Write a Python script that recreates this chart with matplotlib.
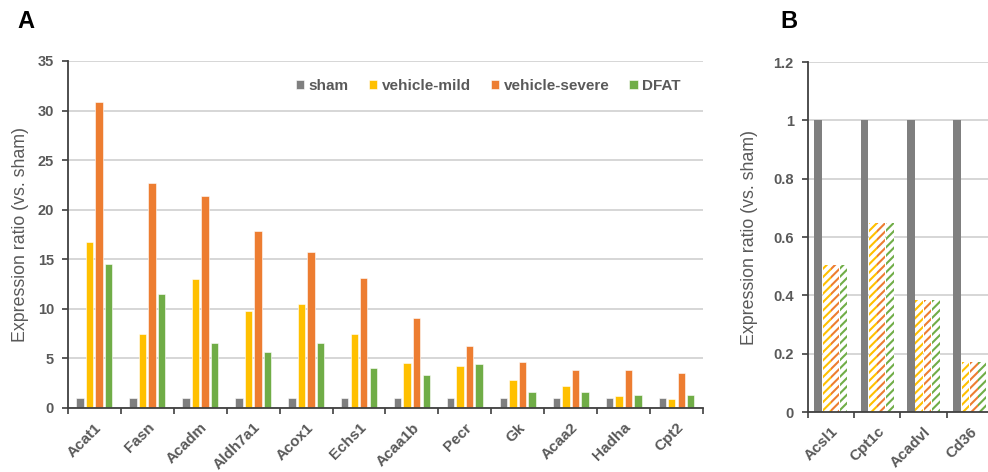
import matplotlib
matplotlib.use("Agg")
import matplotlib.pyplot as plt
import numpy as np

plt.rcParams['font.family'] = ['Liberation Sans', 'DejaVu Sans']
plt.rcParams['hatch.linewidth'] = 1.5

# panel A: fold change vs. sham
genes_a = ["Acat1", "Fasn", "Acadm", "Aldh7a1", "Acox1", "Echs1",
           "Acaa1b", "Pecr", "Gk", "Acaa2", "Hadha", "Cpt2"]
sham_a = [1, 1, 1, 1, 1, 1, 1, 1, 1, 1, 1, 1]
mild_a = [16.75, 7.5, 13.0, 9.8, 10.45, 7.5, 4.55, 4.25, 2.85, 2.25, 1.25, 0.95]
severe_a = [30.85, 22.65, 21.4, 17.9, 15.7, 13.15, 9.1, 6.3, 4.6, 3.85, 3.85, 3.5]
dfat_a = [14.5, 11.5, 6.6, 5.6, 6.6, 4.0, 3.35, 4.4, 1.6, 1.6, 1.35, 1.35]

# panel B: down-regulated genes
genes_b = ["Acsl1", "Cpt1c", "Acadvl", "Cd36"]
sham_b = [1, 1, 1, 1]
mild_b = [0.505, 0.648, 0.385, 0.17]
severe_b = [0.505, 0.648, 0.385, 0.17]
dfat_b = [0.505, 0.648, 0.385, 0.17]

series = ["sham", "vehicle-mild", "vehicle-severe", "DFAT"]
colors = ["#7f7f7f", "#ffc000", "#ed7d31", "#70ad47"]
txt = "#595959"
axcol = "#404040"
grid = "#d0d0d0"

fig = plt.figure(figsize=(9.88, 4.72), dpi=100)
axA = fig.add_axes([0.0688, 0.1356, 0.6427, 0.7352])
axB = fig.add_axes([0.8175, 0.1271, 0.1875, 0.7415])


def style_axis(ax, n, labels, label_x):
    ax.set_xlim(-0.5, n - 0.5)
    for s in ["top", "right"]:
        ax.spines[s].set_visible(False)
    for s in ["left", "bottom"]:
        ax.spines[s].set_color(axcol)
        ax.spines[s].set_linewidth(1.3)
    ax.set_axisbelow(True)
    ax.yaxis.grid(True, color=grid, linewidth=1.2)
    ax.tick_params(axis='y', direction='out', length=4, width=1.2, color=axcol,
                   pad=6, labelsize=10.5, labelcolor=txt)
    for t in ax.get_yticklabels():
        t.set_fontweight('bold')
    ax.set_xticks(np.arange(n))
    ax.set_xticks(np.arange(n + 1) - 0.5, minor=True)
    ax.tick_params(axis='x', which='major', length=0, pad=9)
    ax.tick_params(axis='x', which='minor', direction='out', length=4,
                   width=1.2, color=axcol)
    ax.set_xticklabels(labels, rotation=45, ha='right', va='top',
                       rotation_mode='anchor', fontsize=11,
                       fontweight='bold', color=txt)
    ax.set_ylabel("Expression ratio (vs. sham)", fontsize=12.8, color=txt)
    ax.yaxis.set_label_coords(label_x, 0.5)


# panel A bars
xa = np.arange(len(genes_a))
step = 0.18
for i, vals in enumerate([sham_a, mild_a, severe_a, dfat_a]):
    axA.bar(xa + (i - 1.5) * step, vals, width=0.14, color=colors[i],
            edgecolor="white", linewidth=0.4, label=series[i])
axA.set_ylim(0, 35)
axA.set_yticks(np.arange(0, 36, 5))
style_axis(axA, len(genes_a), genes_a, -0.062)

leg = axA.legend(loc='center right', bbox_to_anchor=(0.689, 0.818),
                 bbox_transform=fig.transFigure, ncol=4, frameon=False,
                 handlelength=0.55, handleheight=0.55, handletextpad=0.3,
                 columnspacing=1.3, borderpad=0, borderaxespad=0,
                 prop={'size': 11, 'weight': 'bold'})
for t in leg.get_texts():
    t.set_color(txt)

# panel B bars: sham solid, treated groups hatched
xb = np.arange(len(genes_b))
axB.bar(xb - 1.5 * step, sham_b, width=0.166, color=colors[0], linewidth=0)
for i, vals in enumerate([mild_b, severe_b, dfat_b], start=1):
    axB.bar(xb + (i - 1.5) * step, vals, width=0.166, facecolor="white",
            edgecolor=colors[i], linewidth=0, hatch='////')
axB.set_ylim(0, 1.2)
axB.set_yticks([0, 0.2, 0.4, 0.6, 0.8, 1.0, 1.2])
axB.set_yticklabels(["0", "0.2", "0.4", "0.6", "0.8", "1", "1.2"])
style_axis(axB, len(genes_b), genes_b, -0.268)

fig.text(0.018, 0.955, "A", fontsize=17, fontweight='bold', va='center')
fig.text(0.79, 0.955, "B", fontsize=17, fontweight='bold', va='center')

fig.savefig("out.png", dpi=100)
